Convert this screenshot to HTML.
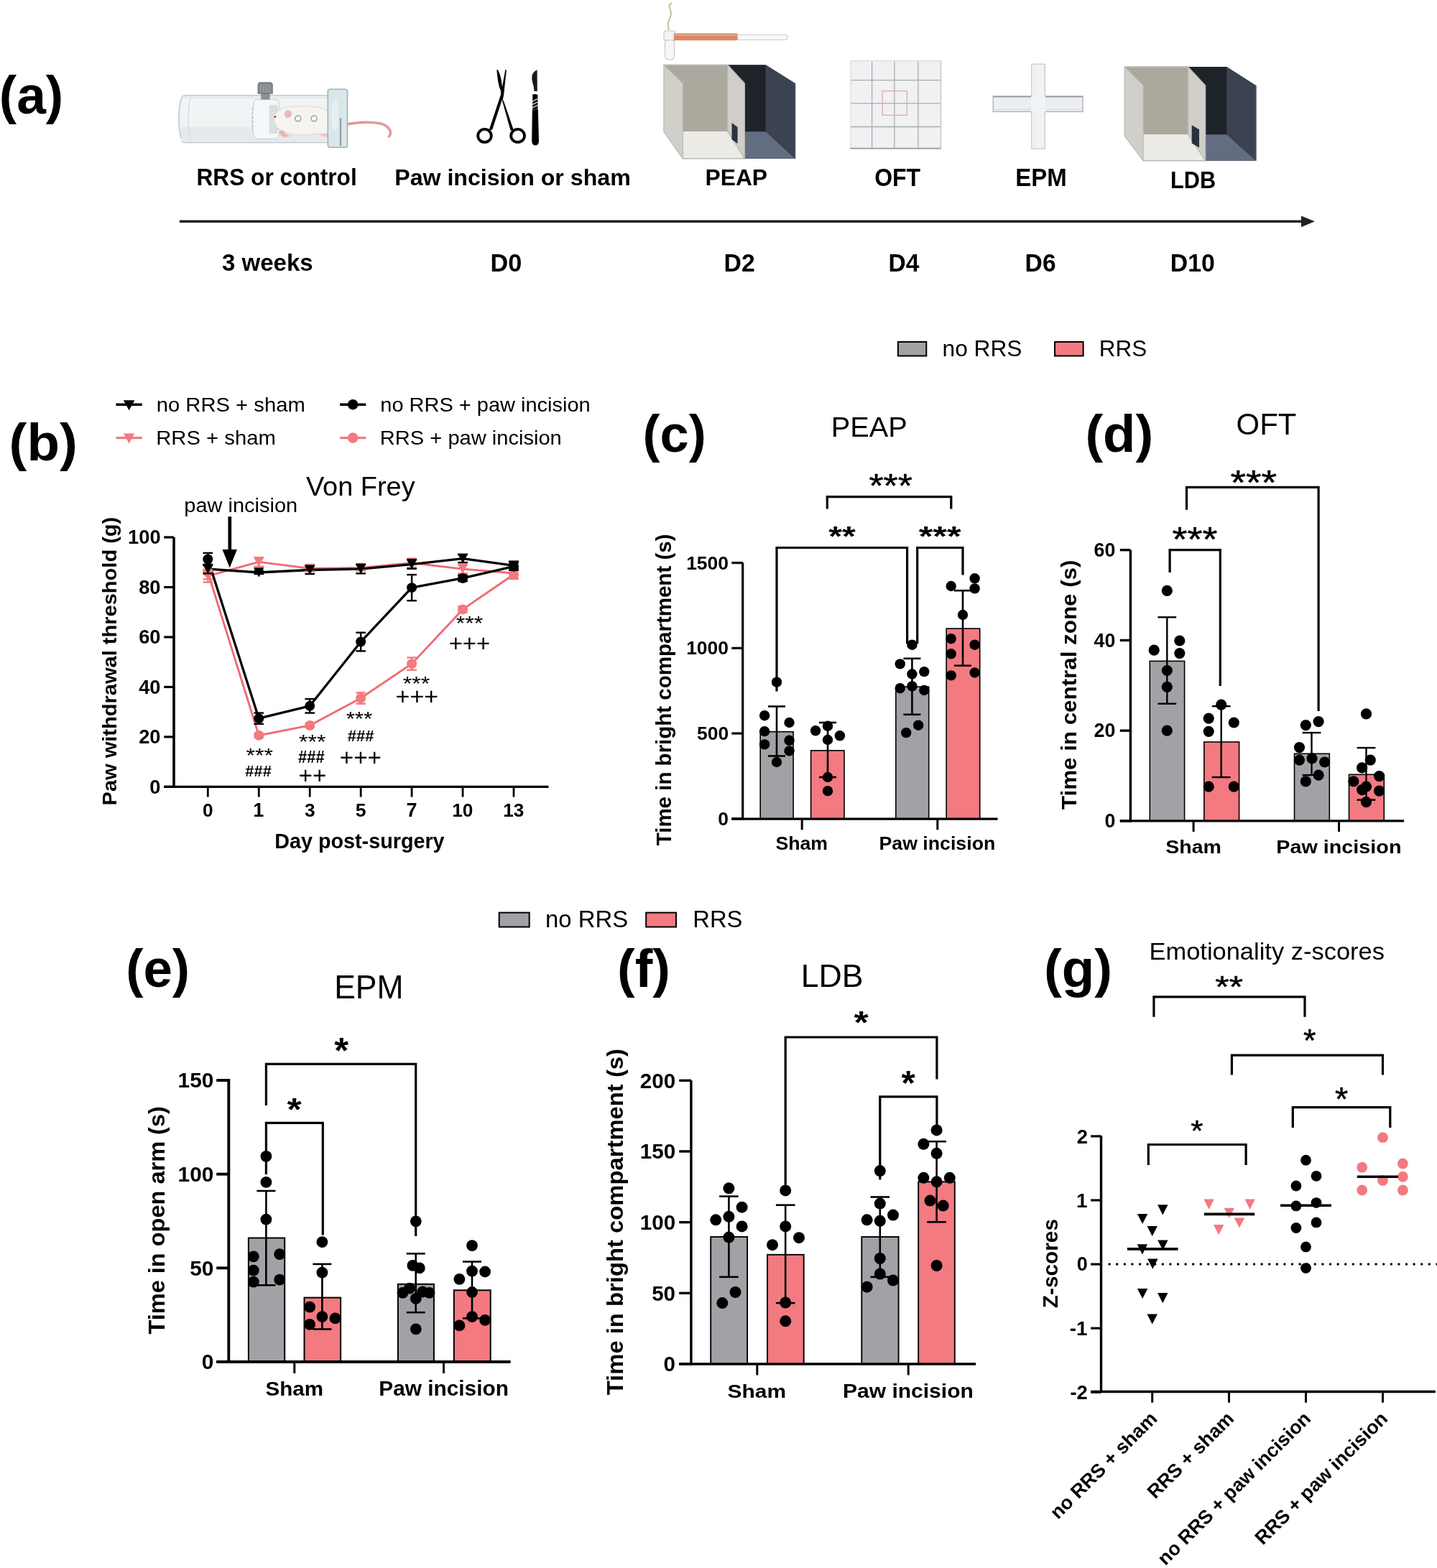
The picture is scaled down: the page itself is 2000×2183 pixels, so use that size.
<!DOCTYPE html>
<html><head><meta charset="utf-8"><title>Figure</title>
<style>html,body{margin:0;padding:0;background:#fff;}svg{display:block;}
text{font-family:"Liberation Sans",Arial,sans-serif;}</style></head>
<body><svg width="2000" height="2183" viewBox="0 0 2000 2183">
<rect width="2000" height="2183" fill="#fff"/>
<g>
<path d="M256,133 H458 V198.5 H256 A7,32.75 0 0 1 256,133 Z" fill="#f1f4f5" stroke="#bcc7cc" stroke-width="1.6"/>
<rect x="252" y="176.7" width="205" height="20.5" fill="#e6eaec"/>
<path d="M267,135 A6,31 0 0 0 267,196.5" fill="none" stroke="#d3dadf" stroke-width="1.4"/>
<line x1="256" y1="136" x2="456" y2="136" stroke="#e1e7ea" stroke-width="2.2"/>
<path d="M356,138.6 H385 A5,27.4 0 0 1 385,193.4 H356 A5,27.4 0 0 1 356,138.6 Z" fill="#f6f7f8" stroke="#cdd5d9" stroke-width="1.3"/>
<path d="M374.5,146 H386 A3.5,22 0 0 1 386,186 H374.5 Z" fill="#dcdfe2"/>
<path d="M351.8,150 V182" stroke="#a9b3b8" stroke-width="1.2" stroke-dasharray="3 3"/>
<rect x="363.2" y="129" width="12.5" height="9.6" fill="#8d9195"/>
<path d="M359,118 Q359,114.8 362.5,114.8 H376 Q379.3,114.8 379.3,118 V130.3 H359 Z" fill="#85898d" stroke="#6c7175" stroke-width="0.9"/>
<path d="M363,118 V129 M367,118 V129 M371,118 V129 M375,118 V129" stroke="#a4a8ab" stroke-width="1.1"/>
<path d="M381,165 Q381,158 388,154 Q392,149 398,150 Q404,147 412,149 Q422,146 434,148.5 Q446,148 454,153 Q462,158 468,165 Q472,172 470,178 Q466,184 458,186 Q448,188 438,186 Q428,189 418,188 Q408,188.6 400,185 Q392,183 386,178 Q381,172 381,165 Z" fill="#f5f4f1" stroke="#ddd6c8" stroke-width="0.9"/>
<path d="M388,184 Q391,190 397,191 L404,189.5 Q397,187.5 393,181 Z" fill="#eab3ae"/>
<path d="M443,186 Q450,191 458,190.5 L460,186 Z" fill="#efc2bd"/>
<ellipse cx="400.8" cy="158.8" rx="5" ry="5.5" fill="#ebb8b5" transform="rotate(10 400.8 158.8)"/>
<circle cx="382.9" cy="162.4" r="1.5" fill="#d33"/>
<circle cx="414.8" cy="165.1" r="3.9" fill="#fff" stroke="#a9aba8" stroke-width="1.8"/>
<circle cx="437.1" cy="165.1" r="3.9" fill="#fff" stroke="#a9aba8" stroke-width="1.8"/>
<path d="M474,174.5 Q492,171 507,170.3 Q520,169.8 530,172 Q540,175 543,182 Q544.5,186 541.5,190" fill="none" stroke="#e29c9b" stroke-width="3.6" stroke-linecap="round"/>
<path d="M476,174 Q492,171 507,170.5" fill="none" stroke="#d98988" stroke-width="1" />
<rect x="456.3" y="124.3" width="27.2" height="81" rx="3" fill="#d9e6ea" stroke="#a5b1b7" stroke-width="1.6"/>
<ellipse cx="466" cy="160" rx="5.5" ry="22" fill="#e6eff2"/>
<line x1="474" y1="164.2" x2="474" y2="203" stroke="#8f9ca3" stroke-width="2.2"/>
</g>
<g fill="none" stroke="#000">
<ellipse cx="674.5" cy="188.9" rx="9.3" ry="9" stroke-width="3.8"/>
<ellipse cx="720.6" cy="188.9" rx="9.4" ry="9" stroke-width="3.8"/>
</g>
<path d="M680.5,181.5 L685.2,180.6 L701.2,131.5 L704.9,97.2 L703.3,97.2 L697.2,131 Z" fill="#000"/>
<path d="M714.8,181 L710.6,181.8 L699.2,141 L700.6,139.5 Z" fill="#000"/>
<path d="M691.3,97.2 L693,97.2 Q697.5,106 698.6,118 L699.6,127 L697.7,127.5 Q694.4,122 693.2,113 Q692,104 691.3,97.2 Z" fill="#000"/>
<path d="M696.8,126 L700.8,133 L699.5,141 L697.5,139 Z" fill="#000"/>
<path d="M747.6,97.2 L747.8,127 L743.6,127 Q743,120 741,114 Q739.6,109 740.6,104.5 Q742.5,99.5 747.6,97.2 Z" fill="#1a1a1a"/>
<path d="M741.2,131.6 Q744.8,130.2 748.4,132 L748.4,152.5 L741.2,152.5 Z" fill="#000"/>
<path d="M741.2,141 L748.4,137.5 M741.2,145.5 L748.4,142 M741.2,150 L748.4,146.5" stroke="#fff" stroke-width="1.2"/>
<path d="M740.8,152.4 H748.8 L750,196 Q750,202.4 745.2,202.4 Q740.2,202.4 740.2,196 Z" fill="#000"/>
<polygon points="1012.8,90.3 1065.6,90.3 1106.5,116 1106.5,220.8 1036.4,220.8 1036.4,116" fill="#1e232a" stroke="none" stroke-width="0"/>
<polygon points="1065.6,90.3 1106.5,116 1106.5,220.8 1065.6,183.3" fill="#3b4252" stroke="none" stroke-width="0"/>
<polygon points="1036.4,183.3 1065.6,183.3 1106.5,220.8 1036.4,220.8" fill="#636d82" stroke="none" stroke-width="0"/>
<line x1="1106.5" y1="116" x2="1106.5" y2="220.8" stroke="#4b5365" stroke-width="1.6"/>
<polygon points="923.9,90.3 1012.8,90.3 1012.8,183.3 950.3,183.3 950.3,116" fill="#aba99e" stroke="none" stroke-width="0"/>
<polygon points="950.3,183.3 1012.8,183.3 1036.4,220.8 950.3,220.8" fill="#ebeae5" stroke="none" stroke-width="0"/>
<polygon points="923.9,90.3 950.3,116 950.3,220.8 923.9,183.3" fill="#d0cfca" stroke="#b9b8b2" stroke-width="1.2"/>
<polygon points="1012.8,90.3 1036.4,116 1036.4,220.8 1012.8,183.3" fill="#cfcec9" stroke="#b9b8b2" stroke-width="1.2"/>
<polygon points="1018.5,171 1026.5,177 1026.5,200 1018.5,194" fill="#2a3140" stroke="none" stroke-width="0"/>
<line x1="923.9" y1="90.3" x2="1012.8" y2="90.3" stroke="#c2c1bb" stroke-width="1.6"/>
<line x1="950.3" y1="220.8" x2="1036.4" y2="220.8" stroke="#b9b8b2" stroke-width="1.6"/>
<polygon points="1653.5,92.9 1707.2,92.9 1747.9,118.9 1747.9,223.7 1677.7,223.7 1677.7,118.9" fill="#1e232a" stroke="none" stroke-width="0"/>
<polygon points="1707.2,92.9 1747.9,118.9 1747.9,223.7 1707.2,187.3" fill="#3b4252" stroke="none" stroke-width="0"/>
<polygon points="1677.7,187.3 1707.2,187.3 1747.9,223.7 1677.7,223.7" fill="#636d82" stroke="none" stroke-width="0"/>
<line x1="1747.9" y1="118.9" x2="1747.9" y2="223.7" stroke="#4b5365" stroke-width="1.6"/>
<polygon points="1565.1,92.9 1653.5,92.9 1653.5,187.3 1591.1,187.3 1591.1,118.9" fill="#aba99e" stroke="none" stroke-width="0"/>
<polygon points="1591.1,187.3 1653.5,187.3 1677.7,223.7 1591.1,223.7" fill="#ebeae5" stroke="none" stroke-width="0"/>
<polygon points="1565.1,92.9 1591.1,118.9 1591.1,223.7 1565.1,189.1" fill="#d0cfca" stroke="#b9b8b2" stroke-width="1.2"/>
<polygon points="1653.5,92.9 1677.7,118.9 1677.7,223.7 1653.5,187.3" fill="#cfcec9" stroke="#b9b8b2" stroke-width="1.2"/>
<polygon points="1658.7,174.3 1669,180.3 1669,205.5 1658.7,199.5" fill="#2a3140" stroke="none" stroke-width="0"/>
<line x1="1565.1" y1="92.9" x2="1653.5" y2="92.9" stroke="#c2c1bb" stroke-width="1.6"/>
<line x1="1591.1" y1="223.7" x2="1677.7" y2="223.7" stroke="#b9b8b2" stroke-width="1.6"/>
<path d="M931,42 Q928,33 932,26 Q936,19 932,12 Q930,7 935,4" fill="none" stroke="#bdb58a" stroke-width="1.6"/>
<rect x="925.5" y="55" width="13" height="28" rx="5" fill="#f7f7f7" stroke="#c9c9c9" stroke-width="1.2"/>
<rect x="924" y="43" width="16" height="13" rx="2" fill="#f3f3f3" stroke="#c9c9c9" stroke-width="1.2"/>
<rect x="1026" y="48.5" width="70" height="7" rx="3" fill="#f8f8f8" stroke="#cfcfcf" stroke-width="1.2"/>
<rect x="937.8" y="46.3" width="88.5" height="10" fill="#d98a63"/>
<rect x="937.8" y="47.5" width="88.5" height="2.5" fill="#e4a383"/>
<rect x="1183.4" y="84.4" width="126.6" height="122.7" fill="#f0f1f3" stroke="none" stroke-width="0"/>
<line x1="1213.6" y1="84.4" x2="1213.6" y2="207.1" stroke="#a9abad" stroke-width="1.3"/>
<line x1="1244.8" y1="84.4" x2="1244.8" y2="207.1" stroke="#a9abad" stroke-width="1.3"/>
<line x1="1277.9" y1="84.4" x2="1277.9" y2="207.1" stroke="#a9abad" stroke-width="1.3"/>
<line x1="1183.4" y1="111.6" x2="1310" y2="111.6" stroke="#a9abad" stroke-width="1.3"/>
<line x1="1183.4" y1="143.8" x2="1310" y2="143.8" stroke="#a9abad" stroke-width="1.3"/>
<line x1="1183.4" y1="176.5" x2="1310" y2="176.5" stroke="#a9abad" stroke-width="1.3"/>
<rect x="1183.9" y="84.9" width="125.6" height="121.7" fill="none" stroke="#e0e1e3" stroke-width="1.6"/>
<line x1="1183.4" y1="206.6" x2="1310" y2="206.6" stroke="#9a9c9e" stroke-width="1.6"/>
<line x1="1309.5" y1="84.4" x2="1309.5" y2="207.1" stroke="#c5c6c8" stroke-width="1.2"/>
<rect x="1228.2" y="126.7" width="34.1" height="33.7" fill="none" stroke="#e2a2b4" stroke-width="1.2"/>
<rect x="1382.2" y="134" width="124.7" height="21.5" fill="#eceef0" stroke="#a9adb1" stroke-width="1.3"/>
<line x1="1382.2" y1="134.6" x2="1506.9" y2="134.6" stroke="#9a9ea3" stroke-width="1.6"/>
<line x1="1384" y1="152.6" x2="1505" y2="152.6" stroke="#d5d8db" stroke-width="1"/>
<rect x="1435.8" y="89.2" width="18.5" height="45.8" fill="#f0f2f4" stroke="#c3c7ca" stroke-width="1.2"/>
<rect x="1435.8" y="154.5" width="18.5" height="52.6" fill="#f0f2f4" stroke="#c3c7ca" stroke-width="1.2"/>
<rect x="1435.2" y="133.8" width="19.7" height="22.1" fill="#f1f3f5" stroke="none" stroke-width="0"/>
<line x1="1440" y1="92" x2="1440" y2="132" stroke="#e2e5e8" stroke-width="1"/>
<line x1="1440" y1="157" x2="1440" y2="205" stroke="#e2e5e8" stroke-width="1"/>
<text transform="translate(-1.26,158.47) scale(0.9968,1)" font-size="73.48" font-weight="bold" fill="#000">(a)</text>
<text transform="translate(273.44,257.6) scale(0.9444,1)" font-size="33.52" font-weight="bold" fill="#000">RRS or control</text>
<text transform="translate(549.21,258.3)" font-size="32.14" font-weight="bold" fill="#000">Paw incision or sham</text>
<text transform="translate(981.53,258.3) scale(0.9875,1)" font-size="32.17" font-weight="bold" fill="#000">PEAP</text>
<text transform="translate(1217.22,258.8) scale(0.9166,1)" font-size="34.86" font-weight="bold" fill="#000">OFT</text>
<text transform="translate(1413.15,258.8) scale(0.9338,1)" font-size="35.36" font-weight="bold" fill="#000">EPM</text>
<text transform="translate(1629,261.8) scale(0.9051,1)" font-size="33.91" font-weight="bold" fill="#000">LDB</text>
<text transform="translate(308.97,377.1) scale(0.9772,1)" font-size="33.79" font-weight="bold" fill="#000">3 weeks</text>
<text transform="translate(682.58,377.5) scale(0.9808,1)" font-size="34.86" font-weight="bold" fill="#000">D0</text>
<text transform="translate(1007.51,377.5) scale(0.9685,1)" font-size="34.86" font-weight="bold" fill="#000">D2</text>
<text transform="translate(1236.62,377.5) scale(0.9481,1)" font-size="35.36" font-weight="bold" fill="#000">D4</text>
<text transform="translate(1426.61,377.5) scale(0.9644,1)" font-size="34.86" font-weight="bold" fill="#000">D6</text>
<text transform="translate(1628.8,377.5) scale(0.9701,1)" font-size="34.86" font-weight="bold" fill="#000">D10</text>
<line x1="249.9" y1="308.3" x2="1813" y2="308.3" stroke="#222" stroke-width="3.4"/>
<polygon points="1811,300.5 1829.8,308.3 1811,316.3" fill="#222" stroke="none" stroke-width="0"/>
<text transform="translate(12.58,640.68) scale(1.0213,1)" font-size="72.94" font-weight="bold" fill="#000">(b)</text>
<text transform="translate(217.7,573.2) scale(1.0330,1)" font-size="28.28" font-weight="normal" fill="#000">no RRS + sham</text>
<text transform="translate(529.31,573.2) scale(1.0256,1)" font-size="28.28" font-weight="normal" fill="#000">no RRS + paw incision</text>
<text transform="translate(217.26,618.7) scale(1.0339,1)" font-size="28.28" font-weight="normal" fill="#000">RRS + sham</text>
<text transform="translate(528.87,618.7) scale(1.0287,1)" font-size="28.28" font-weight="normal" fill="#000">RRS + paw incision</text>
<line x1="161.4" y1="563.2" x2="197.8" y2="563.2" stroke="#000" stroke-width="3.4"/>
<polygon points="171.85,557.2 187.35,557.2 179.6,571.2" fill="#000"/>
<line x1="473" y1="563.2" x2="509.3" y2="563.2" stroke="#000" stroke-width="3.4"/>
<circle cx="491.15" cy="563.2" r="7.3" fill="#000"/>
<line x1="161.4" y1="609.6" x2="197.8" y2="609.6" stroke="#f27a80" stroke-width="3.4"/>
<polygon points="171.85,603.6 187.35,603.6 179.6,617.6" fill="#f27a80"/>
<line x1="473" y1="609.6" x2="509.3" y2="609.6" stroke="#f27a80" stroke-width="3.4"/>
<circle cx="491.15" cy="609.6" r="7.3" fill="#f27a80"/>
<text transform="translate(425.91,690.1) scale(1.0096,1)" font-size="37.54" font-weight="normal" fill="#000">Von Frey</text>
<text transform="translate(256.32,713.16) scale(1.0420,1)" font-size="27.81" font-weight="normal" fill="#000">paw incision</text>
<line x1="319.8" y1="719.2" x2="319.8" y2="768" stroke="#000" stroke-width="4.7"/>
<polygon points="309.5,765 329.9,765 319.7,790.4" fill="#000" stroke="none" stroke-width="0"/>
<polyline points="289.3,796.64 360.25,1023.84 431.2,1009.94 502.15,972.07 573.1,924.13 644.05,848.4 715,799.76" fill="none" stroke="#f06a73" stroke-width="2.9" stroke-linejoin="round"/>
<polyline points="289.3,801.85 360.25,782.39 431.2,791.43 502.15,790.38 573.1,783.78 644.05,792.12 715,798.03" fill="none" stroke="#f06a73" stroke-width="2.9" stroke-linejoin="round"/>
<polyline points="289.3,778.57 360.25,1000.21 431.2,982.84 502.15,893.56 573.1,818.17 644.05,804.97 715,788.65" fill="none" stroke="#000" stroke-width="3.3" stroke-linejoin="round"/>
<polyline points="289.3,792.12 360.25,796.98 431.2,793.51 502.15,792.12 573.1,785.52 644.05,777.53 715,787.26" fill="none" stroke="#000" stroke-width="3.3" stroke-linejoin="round"/>
<line x1="289.3" y1="786.91" x2="289.3" y2="806.36" stroke="#f27a80" stroke-width="2.4"/>
<line x1="282.5" y1="786.91" x2="296.1" y2="786.91" stroke="#f27a80" stroke-width="2.4"/>
<line x1="282.5" y1="806.36" x2="296.1" y2="806.36" stroke="#f27a80" stroke-width="2.4"/>
<line x1="360.25" y1="1021.06" x2="360.25" y2="1026.61" stroke="#f27a80" stroke-width="2.4"/>
<line x1="353.45" y1="1021.06" x2="367.05" y2="1021.06" stroke="#f27a80" stroke-width="2.4"/>
<line x1="353.45" y1="1026.61" x2="367.05" y2="1026.61" stroke="#f27a80" stroke-width="2.4"/>
<line x1="431.2" y1="1007.16" x2="431.2" y2="1012.72" stroke="#f27a80" stroke-width="2.4"/>
<line x1="424.4" y1="1007.16" x2="438" y2="1007.16" stroke="#f27a80" stroke-width="2.4"/>
<line x1="424.4" y1="1012.72" x2="438" y2="1012.72" stroke="#f27a80" stroke-width="2.4"/>
<line x1="502.15" y1="964.43" x2="502.15" y2="979.72" stroke="#f27a80" stroke-width="2.4"/>
<line x1="495.35" y1="964.43" x2="508.95" y2="964.43" stroke="#f27a80" stroke-width="2.4"/>
<line x1="495.35" y1="979.72" x2="508.95" y2="979.72" stroke="#f27a80" stroke-width="2.4"/>
<line x1="573.1" y1="915.45" x2="573.1" y2="932.82" stroke="#f27a80" stroke-width="2.4"/>
<line x1="566.3" y1="915.45" x2="579.9" y2="915.45" stroke="#f27a80" stroke-width="2.4"/>
<line x1="566.3" y1="932.82" x2="579.9" y2="932.82" stroke="#f27a80" stroke-width="2.4"/>
<line x1="644.05" y1="844.23" x2="644.05" y2="852.57" stroke="#f27a80" stroke-width="2.4"/>
<line x1="637.25" y1="844.23" x2="650.85" y2="844.23" stroke="#f27a80" stroke-width="2.4"/>
<line x1="637.25" y1="852.57" x2="650.85" y2="852.57" stroke="#f27a80" stroke-width="2.4"/>
<line x1="715" y1="793.51" x2="715" y2="806.02" stroke="#f27a80" stroke-width="2.4"/>
<line x1="708.2" y1="793.51" x2="721.8" y2="793.51" stroke="#f27a80" stroke-width="2.4"/>
<line x1="708.2" y1="806.02" x2="721.8" y2="806.02" stroke="#f27a80" stroke-width="2.4"/>
<circle cx="289.3" cy="796.64" r="7" fill="#f27a80"/>
<circle cx="360.25" cy="1023.84" r="7" fill="#f27a80"/>
<circle cx="431.2" cy="1009.94" r="7" fill="#f27a80"/>
<circle cx="502.15" cy="972.07" r="7" fill="#f27a80"/>
<circle cx="573.1" cy="924.13" r="7" fill="#f27a80"/>
<circle cx="644.05" cy="848.4" r="7" fill="#f27a80"/>
<circle cx="715" cy="799.76" r="7" fill="#f27a80"/>
<line x1="289.3" y1="793.16" x2="289.3" y2="810.53" stroke="#f27a80" stroke-width="2.4"/>
<line x1="282.5" y1="793.16" x2="296.1" y2="793.16" stroke="#f27a80" stroke-width="2.4"/>
<line x1="282.5" y1="810.53" x2="296.1" y2="810.53" stroke="#f27a80" stroke-width="2.4"/>
<line x1="360.25" y1="776.14" x2="360.25" y2="788.65" stroke="#f27a80" stroke-width="2.4"/>
<line x1="353.45" y1="776.14" x2="367.05" y2="776.14" stroke="#f27a80" stroke-width="2.4"/>
<line x1="353.45" y1="788.65" x2="367.05" y2="788.65" stroke="#f27a80" stroke-width="2.4"/>
<line x1="431.2" y1="787.26" x2="431.2" y2="795.59" stroke="#f27a80" stroke-width="2.4"/>
<line x1="424.4" y1="787.26" x2="438" y2="787.26" stroke="#f27a80" stroke-width="2.4"/>
<line x1="424.4" y1="795.59" x2="438" y2="795.59" stroke="#f27a80" stroke-width="2.4"/>
<line x1="502.15" y1="786.21" x2="502.15" y2="794.55" stroke="#f27a80" stroke-width="2.4"/>
<line x1="495.35" y1="786.21" x2="508.95" y2="786.21" stroke="#f27a80" stroke-width="2.4"/>
<line x1="495.35" y1="794.55" x2="508.95" y2="794.55" stroke="#f27a80" stroke-width="2.4"/>
<line x1="573.1" y1="777.53" x2="573.1" y2="790.04" stroke="#f27a80" stroke-width="2.4"/>
<line x1="566.3" y1="777.53" x2="579.9" y2="777.53" stroke="#f27a80" stroke-width="2.4"/>
<line x1="566.3" y1="790.04" x2="579.9" y2="790.04" stroke="#f27a80" stroke-width="2.4"/>
<line x1="644.05" y1="785.87" x2="644.05" y2="798.37" stroke="#f27a80" stroke-width="2.4"/>
<line x1="637.25" y1="785.87" x2="650.85" y2="785.87" stroke="#f27a80" stroke-width="2.4"/>
<line x1="637.25" y1="798.37" x2="650.85" y2="798.37" stroke="#f27a80" stroke-width="2.4"/>
<line x1="715" y1="791.08" x2="715" y2="804.97" stroke="#f27a80" stroke-width="2.4"/>
<line x1="708.2" y1="791.08" x2="721.8" y2="791.08" stroke="#f27a80" stroke-width="2.4"/>
<line x1="708.2" y1="804.97" x2="721.8" y2="804.97" stroke="#f27a80" stroke-width="2.4"/>
<polygon points="282.05,795.1 296.55,795.1 289.3,808.6" fill="#f27a80"/>
<polygon points="353,775.64 367.5,775.64 360.25,789.14" fill="#f27a80"/>
<polygon points="423.95,784.68 438.45,784.68 431.2,798.18" fill="#f27a80"/>
<polygon points="494.9,783.63 509.4,783.63 502.15,797.13" fill="#f27a80"/>
<polygon points="565.85,777.03 580.35,777.03 573.1,790.53" fill="#f27a80"/>
<polygon points="636.8,785.37 651.3,785.37 644.05,798.87" fill="#f27a80"/>
<polygon points="707.75,791.28 722.25,791.28 715,804.78" fill="#f27a80"/>
<line x1="289.3" y1="769.89" x2="289.3" y2="787.26" stroke="#000" stroke-width="2.4"/>
<line x1="282.5" y1="769.89" x2="296.1" y2="769.89" stroke="#000" stroke-width="2.4"/>
<line x1="282.5" y1="787.26" x2="296.1" y2="787.26" stroke="#000" stroke-width="2.4"/>
<line x1="360.25" y1="992.57" x2="360.25" y2="1007.86" stroke="#000" stroke-width="2.4"/>
<line x1="353.45" y1="992.57" x2="367.05" y2="992.57" stroke="#000" stroke-width="2.4"/>
<line x1="353.45" y1="1007.86" x2="367.05" y2="1007.86" stroke="#000" stroke-width="2.4"/>
<line x1="431.2" y1="973.12" x2="431.2" y2="992.57" stroke="#000" stroke-width="2.4"/>
<line x1="424.4" y1="973.12" x2="438" y2="973.12" stroke="#000" stroke-width="2.4"/>
<line x1="424.4" y1="992.57" x2="438" y2="992.57" stroke="#000" stroke-width="2.4"/>
<line x1="502.15" y1="880.71" x2="502.15" y2="906.41" stroke="#000" stroke-width="2.4"/>
<line x1="495.35" y1="880.71" x2="508.95" y2="880.71" stroke="#000" stroke-width="2.4"/>
<line x1="495.35" y1="906.41" x2="508.95" y2="906.41" stroke="#000" stroke-width="2.4"/>
<line x1="573.1" y1="800.11" x2="573.1" y2="836.24" stroke="#000" stroke-width="2.4"/>
<line x1="566.3" y1="800.11" x2="579.9" y2="800.11" stroke="#000" stroke-width="2.4"/>
<line x1="566.3" y1="836.24" x2="579.9" y2="836.24" stroke="#000" stroke-width="2.4"/>
<line x1="644.05" y1="800.8" x2="644.05" y2="809.14" stroke="#000" stroke-width="2.4"/>
<line x1="637.25" y1="800.8" x2="650.85" y2="800.8" stroke="#000" stroke-width="2.4"/>
<line x1="637.25" y1="809.14" x2="650.85" y2="809.14" stroke="#000" stroke-width="2.4"/>
<line x1="715" y1="783.43" x2="715" y2="793.86" stroke="#000" stroke-width="2.4"/>
<line x1="708.2" y1="783.43" x2="721.8" y2="783.43" stroke="#000" stroke-width="2.4"/>
<line x1="708.2" y1="793.86" x2="721.8" y2="793.86" stroke="#000" stroke-width="2.4"/>
<circle cx="289.3" cy="778.57" r="7" fill="#000"/>
<circle cx="360.25" cy="1000.21" r="7" fill="#000"/>
<circle cx="431.2" cy="982.84" r="7" fill="#000"/>
<circle cx="502.15" cy="893.56" r="7" fill="#000"/>
<circle cx="573.1" cy="818.17" r="7" fill="#000"/>
<circle cx="644.05" cy="804.97" r="7" fill="#000"/>
<circle cx="715" cy="788.65" r="7" fill="#000"/>
<line x1="289.3" y1="785.87" x2="289.3" y2="798.37" stroke="#000" stroke-width="2.4"/>
<line x1="282.5" y1="785.87" x2="296.1" y2="785.87" stroke="#000" stroke-width="2.4"/>
<line x1="282.5" y1="798.37" x2="296.1" y2="798.37" stroke="#000" stroke-width="2.4"/>
<line x1="360.25" y1="794.9" x2="360.25" y2="799.07" stroke="#000" stroke-width="2.4"/>
<line x1="353.45" y1="794.9" x2="367.05" y2="794.9" stroke="#000" stroke-width="2.4"/>
<line x1="353.45" y1="799.07" x2="367.05" y2="799.07" stroke="#000" stroke-width="2.4"/>
<line x1="431.2" y1="787.95" x2="431.2" y2="799.07" stroke="#000" stroke-width="2.4"/>
<line x1="424.4" y1="787.95" x2="438" y2="787.95" stroke="#000" stroke-width="2.4"/>
<line x1="424.4" y1="799.07" x2="438" y2="799.07" stroke="#000" stroke-width="2.4"/>
<line x1="502.15" y1="785.87" x2="502.15" y2="798.37" stroke="#000" stroke-width="2.4"/>
<line x1="495.35" y1="785.87" x2="508.95" y2="785.87" stroke="#000" stroke-width="2.4"/>
<line x1="495.35" y1="798.37" x2="508.95" y2="798.37" stroke="#000" stroke-width="2.4"/>
<line x1="573.1" y1="779.27" x2="573.1" y2="791.77" stroke="#000" stroke-width="2.4"/>
<line x1="566.3" y1="779.27" x2="579.9" y2="779.27" stroke="#000" stroke-width="2.4"/>
<line x1="566.3" y1="791.77" x2="579.9" y2="791.77" stroke="#000" stroke-width="2.4"/>
<line x1="644.05" y1="771.97" x2="644.05" y2="783.09" stroke="#000" stroke-width="2.4"/>
<line x1="637.25" y1="771.97" x2="650.85" y2="771.97" stroke="#000" stroke-width="2.4"/>
<line x1="637.25" y1="783.09" x2="650.85" y2="783.09" stroke="#000" stroke-width="2.4"/>
<line x1="715" y1="782.05" x2="715" y2="792.47" stroke="#000" stroke-width="2.4"/>
<line x1="708.2" y1="782.05" x2="721.8" y2="782.05" stroke="#000" stroke-width="2.4"/>
<line x1="708.2" y1="792.47" x2="721.8" y2="792.47" stroke="#000" stroke-width="2.4"/>
<polygon points="282.05,785.37 296.55,785.37 289.3,798.87" fill="#000"/>
<polygon points="353,790.23 367.5,790.23 360.25,803.73" fill="#000"/>
<polygon points="423.95,786.76 438.45,786.76 431.2,800.26" fill="#000"/>
<polygon points="494.9,785.37 509.4,785.37 502.15,798.87" fill="#000"/>
<polygon points="565.85,778.77 580.35,778.77 573.1,792.27" fill="#000"/>
<polygon points="636.8,770.78 651.3,770.78 644.05,784.28" fill="#000"/>
<polygon points="707.75,780.51 722.25,780.51 715,794.01" fill="#000"/>
<text transform="translate(342.42,1060.53) scale(1.1861,1)" font-size="27.14" font-weight="normal" fill="#000">***</text>
<text transform="translate(341.37,1080.9) scale(0.9518,1)" font-size="22.94" font-weight="bold" fill="#000">###</text>
<text transform="translate(415.92,1041.63) scale(1.1893,1)" font-size="27.14" font-weight="normal" fill="#000">***</text>
<text transform="translate(414.97,1062.3) scale(0.9417,1)" font-size="23.38" font-weight="bold" fill="#000">###</text>
<text transform="translate(415.54,1091.38) scale(1.0063,1)" font-size="33.06" font-weight="normal" fill="#000">++</text>
<text transform="translate(481.63,1009.63) scale(1.1417,1)" font-size="27.43" font-weight="normal" fill="#000">***</text>
<text transform="translate(483.67,1031.7)" font-size="22.06" font-weight="bold" fill="#000">###</text>
<text transform="translate(472.84,1065.68) scale(1.0034,1)" font-size="33.06" font-weight="normal" fill="#000">+++</text>
<text transform="translate(560.82,961.23) scale(1.1861,1)" font-size="27.14" font-weight="normal" fill="#000">***</text>
<text transform="translate(550.6,980.88) scale(1.0289,1)" font-size="33.06" font-weight="normal" fill="#000">+++</text>
<text transform="translate(634.82,876.53) scale(1.1861,1)" font-size="27.14" font-weight="normal" fill="#000">***</text>
<text transform="translate(624.65,906.98) scale(0.9960,1)" font-size="33.06" font-weight="normal" fill="#000">+++</text>
<line x1="242" y1="747.9" x2="242" y2="1097" stroke="#000" stroke-width="3.6"/>
<line x1="228.2" y1="1095.4" x2="763.5" y2="1095.4" stroke="#000" stroke-width="3.4"/>
<line x1="228.2" y1="1095.4" x2="242" y2="1095.4" stroke="#000" stroke-width="3.2"/>
<text transform="translate(208.33,1104.83)" font-size="27.32" font-weight="bold" fill="#000">0</text>
<line x1="228.2" y1="1025.92" x2="242" y2="1025.92" stroke="#000" stroke-width="3.2"/>
<text transform="translate(193.16,1035.35)" font-size="27.32" font-weight="bold" fill="#000">20</text>
<line x1="228.2" y1="956.44" x2="242" y2="956.44" stroke="#000" stroke-width="3.2"/>
<text transform="translate(193.16,965.87)" font-size="27.32" font-weight="bold" fill="#000">40</text>
<line x1="228.2" y1="886.96" x2="242" y2="886.96" stroke="#000" stroke-width="3.2"/>
<text transform="translate(193.16,896.39)" font-size="27.32" font-weight="bold" fill="#000">60</text>
<line x1="228.2" y1="817.48" x2="242" y2="817.48" stroke="#000" stroke-width="3.2"/>
<text transform="translate(193.16,826.91)" font-size="27.32" font-weight="bold" fill="#000">80</text>
<line x1="228.2" y1="748" x2="242" y2="748" stroke="#000" stroke-width="3.2"/>
<text transform="translate(178,757.43)" font-size="27.32" font-weight="bold" fill="#000">100</text>
<line x1="289.3" y1="1095" x2="289.3" y2="1109.6" stroke="#000" stroke-width="2.8"/>
<text transform="translate(282.03,1136.54)" font-size="26.2" font-weight="bold" fill="#000">0</text>
<line x1="360.25" y1="1095" x2="360.25" y2="1109.6" stroke="#000" stroke-width="2.8"/>
<text transform="translate(352.3,1136.8)" font-size="26.96" font-weight="bold" fill="#000">1</text>
<line x1="431.2" y1="1095" x2="431.2" y2="1109.6" stroke="#000" stroke-width="2.8"/>
<text transform="translate(424.06,1136.54)" font-size="26.2" font-weight="bold" fill="#000">3</text>
<line x1="502.15" y1="1095" x2="502.15" y2="1109.6" stroke="#000" stroke-width="2.8"/>
<text transform="translate(494.71,1136.53)" font-size="26.57" font-weight="bold" fill="#000">5</text>
<line x1="573.1" y1="1095" x2="573.1" y2="1109.6" stroke="#000" stroke-width="2.8"/>
<text transform="translate(565.62,1136.8)" font-size="26.96" font-weight="bold" fill="#000">7</text>
<line x1="644.05" y1="1095" x2="644.05" y2="1109.6" stroke="#000" stroke-width="2.8"/>
<text transform="translate(629.25,1136.54)" font-size="26.2" font-weight="bold" fill="#000">10</text>
<line x1="715" y1="1095" x2="715" y2="1109.6" stroke="#000" stroke-width="2.8"/>
<text transform="translate(700.13,1136.54)" font-size="26.2" font-weight="bold" fill="#000">13</text>
<text transform="translate(382.23,1180.7) scale(0.9770,1)" font-size="29.42" font-weight="bold" fill="#000">Day post-surgery</text>
<text transform="translate(162.23,1121.49) rotate(-90) scale(1.0572,1)" font-size="27.49" font-weight="bold" fill="#000">Paw withdrawal threshold (g)</text>
<rect x="1249.9" y="476" width="39.4" height="19.5" fill="#a1a2a6" stroke="#000" stroke-width="2"/>
<text transform="translate(1311.54,495.5) scale(1.0035,1)" font-size="31.57" font-weight="normal" fill="#000">no RRS</text>
<rect x="1468" y="476" width="39.6" height="19.5" fill="#f27a80" stroke="#000" stroke-width="2"/>
<text transform="translate(1529.79,495.5) scale(0.9957,1)" font-size="31.57" font-weight="normal" fill="#000">RRS</text>
<text transform="translate(894.49,628.9) scale(0.9922,1)" font-size="72.83" font-weight="bold" fill="#000">(c)</text>
<text transform="translate(1156.82,608.2) scale(1.0077,1)" font-size="39.42" font-weight="normal" fill="#000">PEAP</text>
<rect x="1058.2" y="1018.7" width="45.9" height="121.4" fill="#a1a2a6" stroke="#000" stroke-width="1.6"/>
<rect x="1128.6" y="1044.9" width="46.4" height="95.2" fill="#f27a80" stroke="#000" stroke-width="1.6"/>
<rect x="1246.8" y="956.2" width="45.9" height="183.9" fill="#a1a2a6" stroke="#000" stroke-width="1.6"/>
<rect x="1317.2" y="875.1" width="46.5" height="265" fill="#f27a80" stroke="#000" stroke-width="1.6"/>
<line x1="1081" y1="983.5" x2="1081" y2="1052.5" stroke="#000" stroke-width="2.6"/>
<line x1="1069" y1="983.5" x2="1093" y2="983.5" stroke="#000" stroke-width="2.6"/>
<line x1="1069" y1="1052.5" x2="1093" y2="1052.5" stroke="#000" stroke-width="2.6"/>
<line x1="1152" y1="1006" x2="1152" y2="1082" stroke="#000" stroke-width="2.6"/>
<line x1="1140" y1="1006" x2="1164" y2="1006" stroke="#000" stroke-width="2.6"/>
<line x1="1140" y1="1082" x2="1164" y2="1082" stroke="#000" stroke-width="2.6"/>
<line x1="1269.4" y1="916.8" x2="1269.4" y2="994.8" stroke="#000" stroke-width="2.6"/>
<line x1="1257.4" y1="916.8" x2="1281.4" y2="916.8" stroke="#000" stroke-width="2.6"/>
<line x1="1257.4" y1="994.8" x2="1281.4" y2="994.8" stroke="#000" stroke-width="2.6"/>
<line x1="1340" y1="822.2" x2="1340" y2="926.7" stroke="#000" stroke-width="2.6"/>
<line x1="1328" y1="822.2" x2="1352" y2="822.2" stroke="#000" stroke-width="2.6"/>
<line x1="1328" y1="926.7" x2="1352" y2="926.7" stroke="#000" stroke-width="2.6"/>
<circle cx="1081" cy="949.7" r="7.2" fill="#000"/>
<circle cx="1064.1" cy="996.2" r="7.2" fill="#000"/>
<circle cx="1098.5" cy="1006" r="7.2" fill="#000"/>
<circle cx="1064.1" cy="1018.2" r="7.2" fill="#000"/>
<circle cx="1098.5" cy="1030.8" r="7.2" fill="#000"/>
<circle cx="1064.1" cy="1036.4" r="7.2" fill="#000"/>
<circle cx="1098.5" cy="1045.5" r="7.2" fill="#000"/>
<circle cx="1081" cy="1061" r="7.2" fill="#000"/>
<circle cx="1135.1" cy="1017.3" r="7.2" fill="#000"/>
<circle cx="1152" cy="1010.8" r="7.2" fill="#000"/>
<circle cx="1168.9" cy="1024.3" r="7.2" fill="#000"/>
<circle cx="1152" cy="1030" r="7.2" fill="#000"/>
<circle cx="1152" cy="1082" r="7.2" fill="#000"/>
<circle cx="1152" cy="1101.2" r="7.2" fill="#000"/>
<circle cx="1269.4" cy="897.7" r="7.2" fill="#000"/>
<circle cx="1252.7" cy="924.4" r="7.2" fill="#000"/>
<circle cx="1269.4" cy="938.5" r="7.2" fill="#000"/>
<circle cx="1286.3" cy="935.1" r="7.2" fill="#000"/>
<circle cx="1252.7" cy="958.2" r="7.2" fill="#000"/>
<circle cx="1269.4" cy="955.4" r="7.2" fill="#000"/>
<circle cx="1286.3" cy="961" r="7.2" fill="#000"/>
<circle cx="1278.1" cy="1009.7" r="7.2" fill="#000"/>
<circle cx="1261.2" cy="1020.1" r="7.2" fill="#000"/>
<circle cx="1356.6" cy="805.3" r="7.2" fill="#000"/>
<circle cx="1323.7" cy="816" r="7.2" fill="#000"/>
<circle cx="1356.6" cy="819.4" r="7.2" fill="#000"/>
<circle cx="1340" cy="856" r="7.2" fill="#000"/>
<circle cx="1323.7" cy="889.2" r="7.2" fill="#000"/>
<circle cx="1356.6" cy="897.7" r="7.2" fill="#000"/>
<circle cx="1323.7" cy="910.3" r="7.2" fill="#000"/>
<circle cx="1323.7" cy="940.4" r="7.2" fill="#000"/>
<circle cx="1356.6" cy="936.5" r="7.2" fill="#000"/>
<path d="M1081,962.4 V762.5 H1262.6 V896.2" stroke="#000" stroke-width="3.2" fill="none" stroke-linejoin="miter" stroke-linecap="butt"/>
<path d="M1276.7,896.2 V762.5 H1340 V800.5" stroke="#000" stroke-width="3.2" fill="none" stroke-linejoin="miter" stroke-linecap="butt"/>
<path d="M1151.3,708.5 V691.6 H1323.8 V708.5" stroke="#000" stroke-width="3.2" fill="none" stroke-linejoin="miter" stroke-linecap="butt"/>
<line x1="1033.7" y1="783.6" x2="1033.7" y2="1141.7" stroke="#000" stroke-width="3.2"/>
<line x1="1018.3" y1="1140.1" x2="1388.5" y2="1140.1" stroke="#000" stroke-width="3.2"/>
<line x1="1018.3" y1="1139.8" x2="1033.7" y2="1139.8" stroke="#000" stroke-width="3.2"/>
<line x1="1018.3" y1="1021.07" x2="1033.7" y2="1021.07" stroke="#000" stroke-width="3.2"/>
<line x1="1018.3" y1="902.33" x2="1033.7" y2="902.33" stroke="#000" stroke-width="3.2"/>
<line x1="1018.3" y1="783.6" x2="1033.7" y2="783.6" stroke="#000" stroke-width="3.2"/>
<line x1="1116.2" y1="1140.1" x2="1116.2" y2="1155.3" stroke="#000" stroke-width="3"/>
<line x1="1304.8" y1="1140.1" x2="1304.8" y2="1155.3" stroke="#000" stroke-width="3"/>
<text transform="translate(999.36,1148.94)" font-size="26.48" font-weight="bold" fill="#000">0</text>
<text transform="translate(969.97,1030.2)" font-size="26.48" font-weight="bold" fill="#000">500</text>
<text transform="translate(955.14,911.47)" font-size="26.48" font-weight="bold" fill="#000">1000</text>
<text transform="translate(955.14,792.73)" font-size="26.48" font-weight="bold" fill="#000">1500</text>
<text transform="translate(1153.16,759.73) scale(1.2210,1)" font-size="39.46" font-weight="bold" fill="#000">**</text>
<text transform="translate(1278.75,759.73) scale(1.2780,1)" font-size="39.46" font-weight="bold" fill="#000">***</text>
<text transform="translate(1209.53,692.14) scale(1.1283,1)" font-size="45.71" font-weight="normal" fill="#000" stroke="#000" stroke-width="0.5">***</text>
<text transform="translate(1079.4,1183.4) scale(1.0585,1)" font-size="25.24" font-weight="bold" fill="#000">Sham</text>
<text transform="translate(1223.46,1183.4) scale(1.0078,1)" font-size="26.52" font-weight="bold" fill="#000">Paw incision</text>
<text transform="translate(933.94,1177.29) rotate(-90) scale(1.0215,1)" font-size="28.88" font-weight="bold" fill="#000">Time in bright compartment (s)</text>
<text transform="translate(1510.38,628.9) scale(1.0204,1)" font-size="72.83" font-weight="bold" fill="#000">(d)</text>
<text transform="translate(1720.62,605.3) scale(1.0035,1)" font-size="41.71" font-weight="normal" fill="#000">OFT</text>
<rect x="1600.3" y="920.4" width="48.3" height="222.5" fill="#a1a2a6" stroke="#000" stroke-width="1.6"/>
<rect x="1675.8" y="1033" width="48.8" height="109.9" fill="#f27a80" stroke="#000" stroke-width="1.6"/>
<rect x="1801.5" y="1049.3" width="48.8" height="93.6" fill="#a1a2a6" stroke="#000" stroke-width="1.6"/>
<rect x="1877.5" y="1078.3" width="48.8" height="64.6" fill="#f27a80" stroke="#000" stroke-width="1.6"/>
<line x1="1624.3" y1="859.3" x2="1624.3" y2="979.7" stroke="#000" stroke-width="2.4"/>
<line x1="1611.4" y1="859.3" x2="1637.2" y2="859.3" stroke="#000" stroke-width="2.4"/>
<line x1="1611.4" y1="979.7" x2="1637.2" y2="979.7" stroke="#000" stroke-width="2.4"/>
<line x1="1699.7" y1="983.2" x2="1699.7" y2="1082.1" stroke="#000" stroke-width="2.4"/>
<line x1="1686.8" y1="983.2" x2="1712.6" y2="983.2" stroke="#000" stroke-width="2.4"/>
<line x1="1686.8" y1="1082.1" x2="1712.6" y2="1082.1" stroke="#000" stroke-width="2.4"/>
<line x1="1825.5" y1="1020.1" x2="1825.5" y2="1079.1" stroke="#000" stroke-width="2.4"/>
<line x1="1812.6" y1="1020.1" x2="1838.4" y2="1020.1" stroke="#000" stroke-width="2.4"/>
<line x1="1812.6" y1="1079.1" x2="1838.4" y2="1079.1" stroke="#000" stroke-width="2.4"/>
<line x1="1901.5" y1="1041.1" x2="1901.5" y2="1113.6" stroke="#000" stroke-width="2.4"/>
<line x1="1888.6" y1="1041.1" x2="1914.4" y2="1041.1" stroke="#000" stroke-width="2.4"/>
<line x1="1888.6" y1="1113.6" x2="1914.4" y2="1113.6" stroke="#000" stroke-width="2.4"/>
<circle cx="1624.3" cy="822.4" r="7.6" fill="#000"/>
<circle cx="1606.2" cy="905.2" r="7.6" fill="#000"/>
<circle cx="1641.8" cy="892" r="7.6" fill="#000"/>
<circle cx="1641.8" cy="909.6" r="7.6" fill="#000"/>
<circle cx="1624.3" cy="933.5" r="7.6" fill="#000"/>
<circle cx="1624.3" cy="956.3" r="7.6" fill="#000"/>
<circle cx="1624.3" cy="1017.2" r="7.6" fill="#000"/>
<circle cx="1699.7" cy="981.2" r="7.6" fill="#000"/>
<circle cx="1682.2" cy="1000.2" r="7.6" fill="#000"/>
<circle cx="1717.3" cy="1006" r="7.6" fill="#000"/>
<circle cx="1682.2" cy="1018.3" r="7.6" fill="#000"/>
<circle cx="1682.2" cy="1095.2" r="7.6" fill="#000"/>
<circle cx="1717.3" cy="1095.2" r="7.6" fill="#000"/>
<circle cx="1835.1" cy="1004.6" r="7.6" fill="#000"/>
<circle cx="1817.3" cy="1009.6" r="7.6" fill="#000"/>
<circle cx="1808.5" cy="1040.6" r="7.6" fill="#000"/>
<circle cx="1826" cy="1055.8" r="7.6" fill="#000"/>
<circle cx="1808.5" cy="1058.1" r="7.6" fill="#000"/>
<circle cx="1843.6" cy="1061" r="7.6" fill="#000"/>
<circle cx="1835.1" cy="1079.1" r="7.6" fill="#000"/>
<circle cx="1817.3" cy="1087.9" r="7.6" fill="#000"/>
<circle cx="1901.5" cy="993.8" r="7.6" fill="#000"/>
<circle cx="1907.3" cy="1058.1" r="7.6" fill="#000"/>
<circle cx="1895.6" cy="1068.9" r="7.6" fill="#000"/>
<circle cx="1919.6" cy="1080.6" r="7.6" fill="#000"/>
<circle cx="1883.9" cy="1087.9" r="7.6" fill="#000"/>
<circle cx="1901.5" cy="1095.2" r="7.6" fill="#000"/>
<circle cx="1919.6" cy="1101.1" r="7.6" fill="#000"/>
<circle cx="1895.6" cy="1099.6" r="7.6" fill="#000"/>
<circle cx="1901.5" cy="1116.6" r="7.6" fill="#000"/>
<path d="M1628.1,797 V765.7 H1698.3 V954.9" stroke="#000" stroke-width="3.2" fill="none" stroke-linejoin="miter" stroke-linecap="butt"/>
<path d="M1651.5,709.7 V678.4 H1835.1 V990" stroke="#000" stroke-width="3.2" fill="none" stroke-linejoin="miter" stroke-linecap="butt"/>
<line x1="1573.4" y1="765.7" x2="1573.4" y2="1144.6" stroke="#000" stroke-width="3.4"/>
<line x1="1558.8" y1="1142.9" x2="1954.1" y2="1142.9" stroke="#000" stroke-width="3.4"/>
<line x1="1558.8" y1="1142.9" x2="1573.4" y2="1142.9" stroke="#000" stroke-width="3.4"/>
<line x1="1558.8" y1="1017.17" x2="1573.4" y2="1017.17" stroke="#000" stroke-width="3.4"/>
<line x1="1558.8" y1="891.43" x2="1573.4" y2="891.43" stroke="#000" stroke-width="3.4"/>
<line x1="1558.8" y1="765.7" x2="1573.4" y2="765.7" stroke="#000" stroke-width="3.4"/>
<line x1="1661.1" y1="1142.9" x2="1661.1" y2="1158" stroke="#000" stroke-width="3"/>
<line x1="1863.5" y1="1142.9" x2="1863.5" y2="1158" stroke="#000" stroke-width="3"/>
<text transform="translate(1537.42,1152.13)" font-size="26.76" font-weight="bold" fill="#000">0</text>
<text transform="translate(1522.57,1026.4)" font-size="26.76" font-weight="bold" fill="#000">20</text>
<text transform="translate(1522.57,900.66)" font-size="26.76" font-weight="bold" fill="#000">40</text>
<text transform="translate(1522.57,774.93)" font-size="26.76" font-weight="bold" fill="#000">60</text>
<text transform="translate(1712.47,687.51) scale(1.1378,1)" font-size="48.57" font-weight="normal" fill="#000" stroke="#000" stroke-width="0.5">***</text>
<text transform="translate(1631.49,766.71) scale(1.1089,1)" font-size="48.57" font-weight="normal" fill="#000" stroke="#000" stroke-width="0.5">***</text>
<text transform="translate(1622.24,1187.9) scale(1.1431,1)" font-size="24.97" font-weight="bold" fill="#000">Sham</text>
<text transform="translate(1776.23,1187.9) scale(1.0974,1)" font-size="26.23" font-weight="bold" fill="#000">Paw incision</text>
<text transform="translate(1498.21,1127.11) rotate(-90) scale(1.0464,1)" font-size="29.95" font-weight="bold" fill="#000">Time in central zone (s)</text>
<rect x="694.7" y="1270.6" width="42" height="19.9" fill="#a1a2a6" stroke="#000" stroke-width="2"/>
<text transform="translate(759.06,1290.9) scale(0.9924,1)" font-size="33.14" font-weight="normal" fill="#000">no RRS</text>
<rect x="899.2" y="1270.6" width="41.8" height="19.9" fill="#f27a80" stroke="#000" stroke-width="2"/>
<text transform="translate(964.28,1290.9) scale(0.9880,1)" font-size="33.14" font-weight="normal" fill="#000">RRS</text>
<text transform="translate(175.16,1374.26) scale(0.9836,1)" font-size="74.01" font-weight="bold" fill="#000">(e)</text>
<text transform="translate(465.14,1390.4) scale(0.9796,1)" font-size="45.36" font-weight="normal" fill="#000">EPM</text>
<rect x="345.9" y="1723.5" width="50.3" height="172.5" fill="#a1a2a6" stroke="#000" stroke-width="2"/>
<rect x="423.5" y="1806.6" width="50.6" height="89.4" fill="#f27a80" stroke="#000" stroke-width="2"/>
<rect x="553.9" y="1787.8" width="50" height="108.2" fill="#a1a2a6" stroke="#000" stroke-width="2"/>
<rect x="631.8" y="1796.3" width="50.9" height="99.7" fill="#f27a80" stroke="#000" stroke-width="2"/>
<line x1="370.4" y1="1658" x2="370.4" y2="1789.3" stroke="#000" stroke-width="2.6"/>
<line x1="357.4" y1="1658" x2="383.4" y2="1658" stroke="#000" stroke-width="2.6"/>
<line x1="357.4" y1="1789.3" x2="383.4" y2="1789.3" stroke="#000" stroke-width="2.6"/>
<line x1="448.4" y1="1759.9" x2="448.4" y2="1850.5" stroke="#000" stroke-width="2.6"/>
<line x1="435.4" y1="1759.9" x2="461.4" y2="1759.9" stroke="#000" stroke-width="2.6"/>
<line x1="435.4" y1="1850.5" x2="461.4" y2="1850.5" stroke="#000" stroke-width="2.6"/>
<line x1="578.7" y1="1745.3" x2="578.7" y2="1827.2" stroke="#000" stroke-width="2.6"/>
<line x1="565.7" y1="1745.3" x2="591.7" y2="1745.3" stroke="#000" stroke-width="2.6"/>
<line x1="565.7" y1="1827.2" x2="591.7" y2="1827.2" stroke="#000" stroke-width="2.6"/>
<line x1="657" y1="1756.5" x2="657" y2="1835.4" stroke="#000" stroke-width="2.6"/>
<line x1="644" y1="1756.5" x2="670" y2="1756.5" stroke="#000" stroke-width="2.6"/>
<line x1="644" y1="1835.4" x2="670" y2="1835.4" stroke="#000" stroke-width="2.6"/>
<circle cx="370.4" cy="1609.8" r="7.9" fill="#000"/>
<circle cx="370.4" cy="1645.9" r="7.9" fill="#000"/>
<circle cx="370.4" cy="1697.7" r="7.9" fill="#000"/>
<circle cx="352.8" cy="1749.3" r="7.9" fill="#000"/>
<circle cx="389.2" cy="1746.2" r="7.9" fill="#000"/>
<circle cx="352.8" cy="1768.7" r="7.9" fill="#000"/>
<circle cx="352.8" cy="1784.7" r="7.9" fill="#000"/>
<circle cx="389.2" cy="1781.7" r="7.9" fill="#000"/>
<circle cx="448.4" cy="1729.2" r="7.9" fill="#000"/>
<circle cx="448.4" cy="1771.7" r="7.9" fill="#000"/>
<circle cx="431.1" cy="1819.6" r="7.9" fill="#000"/>
<circle cx="448.4" cy="1833.2" r="7.9" fill="#000"/>
<circle cx="466.5" cy="1835.4" r="7.9" fill="#000"/>
<circle cx="431.1" cy="1843.9" r="7.9" fill="#000"/>
<circle cx="578.8" cy="1700.3" r="7.9" fill="#000"/>
<circle cx="574.4" cy="1761.9" r="7.9" fill="#000"/>
<circle cx="583.8" cy="1765.4" r="7.9" fill="#000"/>
<circle cx="560.5" cy="1799.8" r="7.9" fill="#000"/>
<circle cx="569.9" cy="1793.6" r="7.9" fill="#000"/>
<circle cx="588.2" cy="1798.5" r="7.9" fill="#000"/>
<circle cx="597.6" cy="1799.8" r="7.9" fill="#000"/>
<circle cx="578.8" cy="1807.9" r="7.9" fill="#000"/>
<circle cx="578.8" cy="1850.3" r="7.9" fill="#000"/>
<circle cx="657" cy="1734.1" r="7.9" fill="#000"/>
<circle cx="657" cy="1769.6" r="7.9" fill="#000"/>
<circle cx="675.1" cy="1770.5" r="7.9" fill="#000"/>
<circle cx="639.4" cy="1780.8" r="7.9" fill="#000"/>
<circle cx="657" cy="1799" r="7.9" fill="#000"/>
<circle cx="657" cy="1833.2" r="7.9" fill="#000"/>
<circle cx="675.1" cy="1837.8" r="7.9" fill="#000"/>
<circle cx="639.4" cy="1845.4" r="7.9" fill="#000"/>
<path d="M370.4,1635 V1563.4 H449.3 V1719.5" stroke="#000" stroke-width="3.2" fill="none" stroke-linejoin="miter" stroke-linecap="butt"/>
<path d="M370.4,1539.1 V1481.3 H578.7 V1721.1" stroke="#000" stroke-width="3.2" fill="none" stroke-linejoin="miter" stroke-linecap="butt"/>
<line x1="318.3" y1="1502" x2="318.3" y2="1897.95" stroke="#000" stroke-width="3.9"/>
<line x1="301.2" y1="1896" x2="710.6" y2="1896" stroke="#000" stroke-width="3.9"/>
<line x1="301.2" y1="1896" x2="318.3" y2="1896" stroke="#000" stroke-width="3.9"/>
<line x1="301.2" y1="1765.34" x2="318.3" y2="1765.34" stroke="#000" stroke-width="3.9"/>
<line x1="301.2" y1="1634.67" x2="318.3" y2="1634.67" stroke="#000" stroke-width="3.9"/>
<line x1="301.2" y1="1504.01" x2="318.3" y2="1504.01" stroke="#000" stroke-width="3.9"/>
<line x1="409.8" y1="1896" x2="409.8" y2="1912" stroke="#000" stroke-width="3"/>
<line x1="617.5" y1="1896" x2="617.5" y2="1912" stroke="#000" stroke-width="3"/>
<text transform="translate(280.72,1906.3)" font-size="29.86" font-weight="bold" fill="#000">0</text>
<text transform="translate(264.15,1775.64)" font-size="29.86" font-weight="bold" fill="#000">50</text>
<text transform="translate(247.58,1644.97)" font-size="29.86" font-weight="bold" fill="#000">100</text>
<text transform="translate(247.58,1514.31)" font-size="29.86" font-weight="bold" fill="#000">150</text>
<text transform="translate(465.34,1479.87) scale(1.0101,1)" font-size="50.54" font-weight="bold" fill="#000">*</text>
<text transform="translate(399.54,1559.64) scale(1.1486,1)" font-size="45.14" font-weight="bold" fill="#000">*</text>
<text transform="translate(369.51,1943.3) scale(1.0731,1)" font-size="27.59" font-weight="bold" fill="#000">Sham</text>
<text transform="translate(527.36,1943.3) scale(1.0286,1)" font-size="28.99" font-weight="bold" fill="#000">Paw incision</text>
<text transform="translate(228.76,1857.53) rotate(-90) scale(1.0135,1)" font-size="32.09" font-weight="bold" fill="#000">Time in open arm (s)</text>
<text transform="translate(858.99,1374.26)" font-size="74.01" font-weight="bold" fill="#000">(f)</text>
<text transform="translate(1114.73,1373.7) scale(1.0063,1)" font-size="44.35" font-weight="normal" fill="#000">LDB</text>
<rect x="989.2" y="1722" width="50.9" height="177" fill="#a1a2a6" stroke="#000" stroke-width="1.9"/>
<rect x="1068" y="1746.8" width="50.7" height="152.2" fill="#f27a80" stroke="#000" stroke-width="1.9"/>
<rect x="1199.3" y="1722" width="51.3" height="177" fill="#a1a2a6" stroke="#000" stroke-width="1.9"/>
<rect x="1278.2" y="1645.3" width="50.6" height="253.7" fill="#f27a80" stroke="#000" stroke-width="1.9"/>
<line x1="1014.4" y1="1665.6" x2="1014.4" y2="1777.8" stroke="#000" stroke-width="2.6"/>
<line x1="1001.1" y1="1665.6" x2="1027.7" y2="1665.6" stroke="#000" stroke-width="2.6"/>
<line x1="1001.1" y1="1777.8" x2="1027.7" y2="1777.8" stroke="#000" stroke-width="2.6"/>
<line x1="1093.2" y1="1677.7" x2="1093.2" y2="1814.1" stroke="#000" stroke-width="2.6"/>
<line x1="1079.9" y1="1677.7" x2="1106.5" y2="1677.7" stroke="#000" stroke-width="2.6"/>
<line x1="1079.9" y1="1814.1" x2="1106.5" y2="1814.1" stroke="#000" stroke-width="2.6"/>
<line x1="1224.8" y1="1666.5" x2="1224.8" y2="1777.8" stroke="#000" stroke-width="2.6"/>
<line x1="1211.5" y1="1666.5" x2="1238.1" y2="1666.5" stroke="#000" stroke-width="2.6"/>
<line x1="1211.5" y1="1777.8" x2="1238.1" y2="1777.8" stroke="#000" stroke-width="2.6"/>
<line x1="1303.6" y1="1589.2" x2="1303.6" y2="1701.3" stroke="#000" stroke-width="2.6"/>
<line x1="1290.3" y1="1589.2" x2="1316.9" y2="1589.2" stroke="#000" stroke-width="2.6"/>
<line x1="1290.3" y1="1701.3" x2="1316.9" y2="1701.3" stroke="#000" stroke-width="2.6"/>
<circle cx="1014.4" cy="1654.3" r="8" fill="#000"/>
<circle cx="1032.6" cy="1680.7" r="8" fill="#000"/>
<circle cx="996.2" cy="1698.3" r="8" fill="#000"/>
<circle cx="1014.4" cy="1693.8" r="8" fill="#000"/>
<circle cx="1032.6" cy="1707.4" r="8" fill="#000"/>
<circle cx="1014.4" cy="1722.6" r="8" fill="#000"/>
<circle cx="1023.5" cy="1799" r="8" fill="#000"/>
<circle cx="1005.3" cy="1814.1" r="8" fill="#000"/>
<circle cx="1093.2" cy="1657.4" r="8" fill="#000"/>
<circle cx="1093.2" cy="1707.4" r="8" fill="#000"/>
<circle cx="1075" cy="1733.2" r="8" fill="#000"/>
<circle cx="1112" cy="1723.2" r="8" fill="#000"/>
<circle cx="1093.2" cy="1813.5" r="8" fill="#000"/>
<circle cx="1093.2" cy="1839.3" r="8" fill="#000"/>
<circle cx="1224.8" cy="1630.1" r="8" fill="#000"/>
<circle cx="1224.8" cy="1675.6" r="8" fill="#000"/>
<circle cx="1243" cy="1691.6" r="8" fill="#000"/>
<circle cx="1206.6" cy="1698.3" r="8" fill="#000"/>
<circle cx="1224.8" cy="1699.8" r="8" fill="#000"/>
<circle cx="1224.8" cy="1752" r="8" fill="#000"/>
<circle cx="1224.8" cy="1773.5" r="8" fill="#000"/>
<circle cx="1243" cy="1782.6" r="8" fill="#000"/>
<circle cx="1206.6" cy="1791.7" r="8" fill="#000"/>
<circle cx="1303.6" cy="1573.4" r="8" fill="#000"/>
<circle cx="1285.4" cy="1592.8" r="8" fill="#000"/>
<circle cx="1303.6" cy="1605.8" r="8" fill="#000"/>
<circle cx="1285.4" cy="1639.8" r="8" fill="#000"/>
<circle cx="1303.6" cy="1645.3" r="8" fill="#000"/>
<circle cx="1321.8" cy="1639.8" r="8" fill="#000"/>
<circle cx="1294.5" cy="1671.6" r="8" fill="#000"/>
<circle cx="1312.7" cy="1678.6" r="8" fill="#000"/>
<circle cx="1303.6" cy="1762" r="8" fill="#000"/>
<path d="M1093.2,1649.8 V1444 H1303.9 V1502.5" stroke="#000" stroke-width="3.2" fill="none" stroke-linejoin="miter" stroke-linecap="butt"/>
<path d="M1224.8,1642.2 V1526.8 H1303.9 V1567.9" stroke="#000" stroke-width="3.2" fill="none" stroke-linejoin="miter" stroke-linecap="butt"/>
<line x1="961.9" y1="1504.3" x2="961.9" y2="1900.7" stroke="#000" stroke-width="3.4"/>
<line x1="945.2" y1="1899" x2="1358.2" y2="1899" stroke="#000" stroke-width="3.4"/>
<line x1="945.2" y1="1899" x2="961.9" y2="1899" stroke="#000" stroke-width="3.4"/>
<line x1="945.2" y1="1800.33" x2="961.9" y2="1800.33" stroke="#000" stroke-width="3.4"/>
<line x1="945.2" y1="1701.65" x2="961.9" y2="1701.65" stroke="#000" stroke-width="3.4"/>
<line x1="945.2" y1="1602.97" x2="961.9" y2="1602.97" stroke="#000" stroke-width="3.4"/>
<line x1="945.2" y1="1504.3" x2="961.9" y2="1504.3" stroke="#000" stroke-width="3.4"/>
<line x1="1053.8" y1="1899" x2="1053.8" y2="1914.5" stroke="#000" stroke-width="3"/>
<line x1="1264.2" y1="1899" x2="1264.2" y2="1914.5" stroke="#000" stroke-width="3"/>
<text transform="translate(923.57,1909.2)" font-size="29.58" font-weight="bold" fill="#000">0</text>
<text transform="translate(907.15,1810.53)" font-size="29.58" font-weight="bold" fill="#000">50</text>
<text transform="translate(890.74,1711.85)" font-size="29.58" font-weight="bold" fill="#000">100</text>
<text transform="translate(890.74,1613.18)" font-size="29.58" font-weight="bold" fill="#000">150</text>
<text transform="translate(890.74,1514.5)" font-size="29.58" font-weight="bold" fill="#000">200</text>
<text transform="translate(1188.44,1438.74) scale(1.1486,1)" font-size="45.14" font-weight="bold" fill="#000">*</text>
<text transform="translate(1254.55,1524.42) scale(1.0401,1)" font-size="47.57" font-weight="bold" fill="#000">*</text>
<text transform="translate(1012.5,1946.3) scale(1.1366,1)" font-size="26.34" font-weight="bold" fill="#000">Sham</text>
<text transform="translate(1173.05,1946.3) scale(1.0844,1)" font-size="27.68" font-weight="bold" fill="#000">Paw incision</text>
<text transform="translate(867.26,1942.33) rotate(-90) scale(1.0226,1)" font-size="32.09" font-weight="bold" fill="#000">Time in bright compartment (s)</text>
<text transform="translate(1452.98,1374.26) scale(1.0065,1)" font-size="74.01" font-weight="bold" fill="#000">(g)</text>
<text transform="translate(1599.44,1336.4) scale(1.0549,1)" font-size="32.69" font-weight="normal" fill="#000">Emotionality z-scores</text>
<line x1="1544.1" y1="1760.1" x2="2000" y2="1760.1" stroke="#000" stroke-width="3.5" stroke-linecap="round" stroke-dasharray="0 10.6"/>
<polygon points="1611.1,1677.2 1625.5,1677.2 1618.3,1691.4" fill="#000"/>
<polygon points="1582.9,1689.9 1597.3,1689.9 1590.1,1704.1" fill="#000"/>
<polygon points="1596.5,1706.9 1610.9,1706.9 1603.7,1721.1" fill="#000"/>
<polygon points="1611.2,1726.4 1625.6,1726.4 1618.4,1740.6" fill="#000"/>
<polygon points="1582.7,1732.2 1597.1,1732.2 1589.9,1746.4" fill="#000"/>
<polygon points="1597.1,1752.6 1611.5,1752.6 1604.3,1766.8" fill="#000"/>
<polygon points="1582.9,1793.9 1597.3,1793.9 1590.1,1808.1" fill="#000"/>
<polygon points="1611.1,1800 1625.5,1800 1618.3,1814.2" fill="#000"/>
<polygon points="1596.5,1829.4 1610.9,1829.4 1603.7,1843.6" fill="#000"/>
<polygon points="1675.4,1669.6 1689.8,1669.6 1682.6,1683.8" fill="#f27a80"/>
<polygon points="1732.4,1669.6 1746.8,1669.6 1739.6,1683.8" fill="#f27a80"/>
<polygon points="1703.6,1681.8 1718,1681.8 1710.8,1696" fill="#f27a80"/>
<polygon points="1717.8,1695.4 1732.2,1695.4 1725,1709.6" fill="#f27a80"/>
<polygon points="1689,1705.1 1703.4,1705.1 1696.2,1719.3" fill="#f27a80"/>
<circle cx="1817.5" cy="1615.2" r="7.4" fill="#000"/>
<circle cx="1832" cy="1637.3" r="7.4" fill="#000"/>
<circle cx="1803.9" cy="1651" r="7.4" fill="#000"/>
<circle cx="1803.9" cy="1678.9" r="7.4" fill="#000"/>
<circle cx="1832" cy="1674.6" r="7.4" fill="#000"/>
<circle cx="1832" cy="1701.9" r="7.4" fill="#000"/>
<circle cx="1803.9" cy="1709.5" r="7.4" fill="#000"/>
<circle cx="1817.5" cy="1735.9" r="7.4" fill="#000"/>
<circle cx="1817.5" cy="1765.6" r="7.4" fill="#000"/>
<circle cx="1924.5" cy="1583.7" r="7.4" fill="#f27a80"/>
<circle cx="1895.7" cy="1625.2" r="7.4" fill="#f27a80"/>
<circle cx="1952.4" cy="1620" r="7.4" fill="#f27a80"/>
<circle cx="1952.4" cy="1638.2" r="7.4" fill="#f27a80"/>
<circle cx="1924.5" cy="1643.4" r="7.4" fill="#f27a80"/>
<circle cx="1895.7" cy="1657" r="7.4" fill="#f27a80"/>
<circle cx="1952.4" cy="1657" r="7.4" fill="#f27a80"/>
<line x1="1568.9" y1="1738.9" x2="1639.5" y2="1738.9" stroke="#000" stroke-width="3.6"/>
<line x1="1675.9" y1="1690.4" x2="1746.2" y2="1690.4" stroke="#000" stroke-width="3.6"/>
<line x1="1782" y1="1678.3" x2="1853" y2="1678.3" stroke="#000" stroke-width="3.6"/>
<line x1="1888.8" y1="1638.2" x2="1945.8" y2="1638.2" stroke="#000" stroke-width="3.6"/>
<path d="M1605.9,1415.8 V1387.9 H1816 V1415.8" stroke="#000" stroke-width="3.2" fill="none"/>
<path d="M1714.4,1496.5 V1469.2 H1924.5 V1496.5" stroke="#000" stroke-width="3.2" fill="none"/>
<path d="M1799.3,1569.9 V1541.7 H1934.8 V1569.9" stroke="#000" stroke-width="3.2" fill="none"/>
<path d="M1598.3,1622 V1593.5 H1734.1 V1622" stroke="#000" stroke-width="3.2" fill="none"/>
<text transform="translate(1691.15,1388.18) scale(1.1986,1)" font-size="41.71" font-weight="normal" fill="#000" stroke="#000" stroke-width="0.5">**</text>
<text transform="translate(1814.03,1463.67) scale(1.0362,1)" font-size="43.43" font-weight="normal" fill="#000" stroke="#000" stroke-width="0.5">*</text>
<text transform="translate(1857.9,1545.64) scale(1.0269,1)" font-size="45.71" font-weight="normal" fill="#000" stroke="#000" stroke-width="0.5">*</text>
<text transform="translate(1657.23,1588.19) scale(1.0728,1)" font-size="41.43" font-weight="normal" fill="#000" stroke="#000" stroke-width="0.5">*</text>
<line x1="1532.5" y1="1581.2" x2="1532.5" y2="1939" stroke="#000" stroke-width="3.4"/>
<line x1="1518.2" y1="1937.5" x2="1997.9" y2="1937.5" stroke="#000" stroke-width="3.4"/>
<line x1="1518.2" y1="1581.9" x2="1532.5" y2="1581.9" stroke="#000" stroke-width="3.2"/>
<text transform="translate(1498.67,1591.5)" font-size="27.43" font-weight="bold" fill="#000">2</text>
<line x1="1518.2" y1="1671" x2="1532.5" y2="1671" stroke="#000" stroke-width="3.2"/>
<text transform="translate(1498.05,1680.6)" font-size="27.83" font-weight="bold" fill="#000">1</text>
<line x1="1518.2" y1="1760.1" x2="1532.5" y2="1760.1" stroke="#000" stroke-width="3.2"/>
<text transform="translate(1498.87,1769.43)" font-size="27.04" font-weight="bold" fill="#000">0</text>
<line x1="1518.2" y1="1849.2" x2="1532.5" y2="1849.2" stroke="#000" stroke-width="3.2"/>
<text transform="translate(1488.73,1858.8)" font-size="27.83" font-weight="bold" fill="#000">-1</text>
<line x1="1518.2" y1="1938.3" x2="1532.5" y2="1938.3" stroke="#000" stroke-width="3.2"/>
<text transform="translate(1489.49,1947.9)" font-size="27.43" font-weight="bold" fill="#000">-2</text>
<line x1="1603.7" y1="1937.5" x2="1603.7" y2="1952.7" stroke="#000" stroke-width="3"/>
<line x1="1710.5" y1="1937.5" x2="1710.5" y2="1952.7" stroke="#000" stroke-width="3"/>
<line x1="1817.5" y1="1937.5" x2="1817.5" y2="1952.7" stroke="#000" stroke-width="3"/>
<line x1="1924.5" y1="1937.5" x2="1924.5" y2="1952.7" stroke="#000" stroke-width="3"/>
<text transform="translate(1472,1821.19) rotate(-90) scale(0.9884,1)" font-size="30.14" font-weight="bold" fill="#000">Z-scores</text>
<text transform="translate(1612,1976.7) rotate(-45)" font-size="26.8" font-weight="bold" text-anchor="end">no RRS + sham</text>
<text transform="translate(1718.8,1976.7) rotate(-45)" font-size="26.8" font-weight="bold" text-anchor="end">RRS + sham</text>
<text transform="translate(1825.8,1976.7) rotate(-45)" font-size="26.8" font-weight="bold" text-anchor="end">no RRS + paw incision</text>
<text transform="translate(1932.8,1976.7) rotate(-45)" font-size="26.8" font-weight="bold" text-anchor="end">RRS + paw incision</text>
</svg></body></html>
